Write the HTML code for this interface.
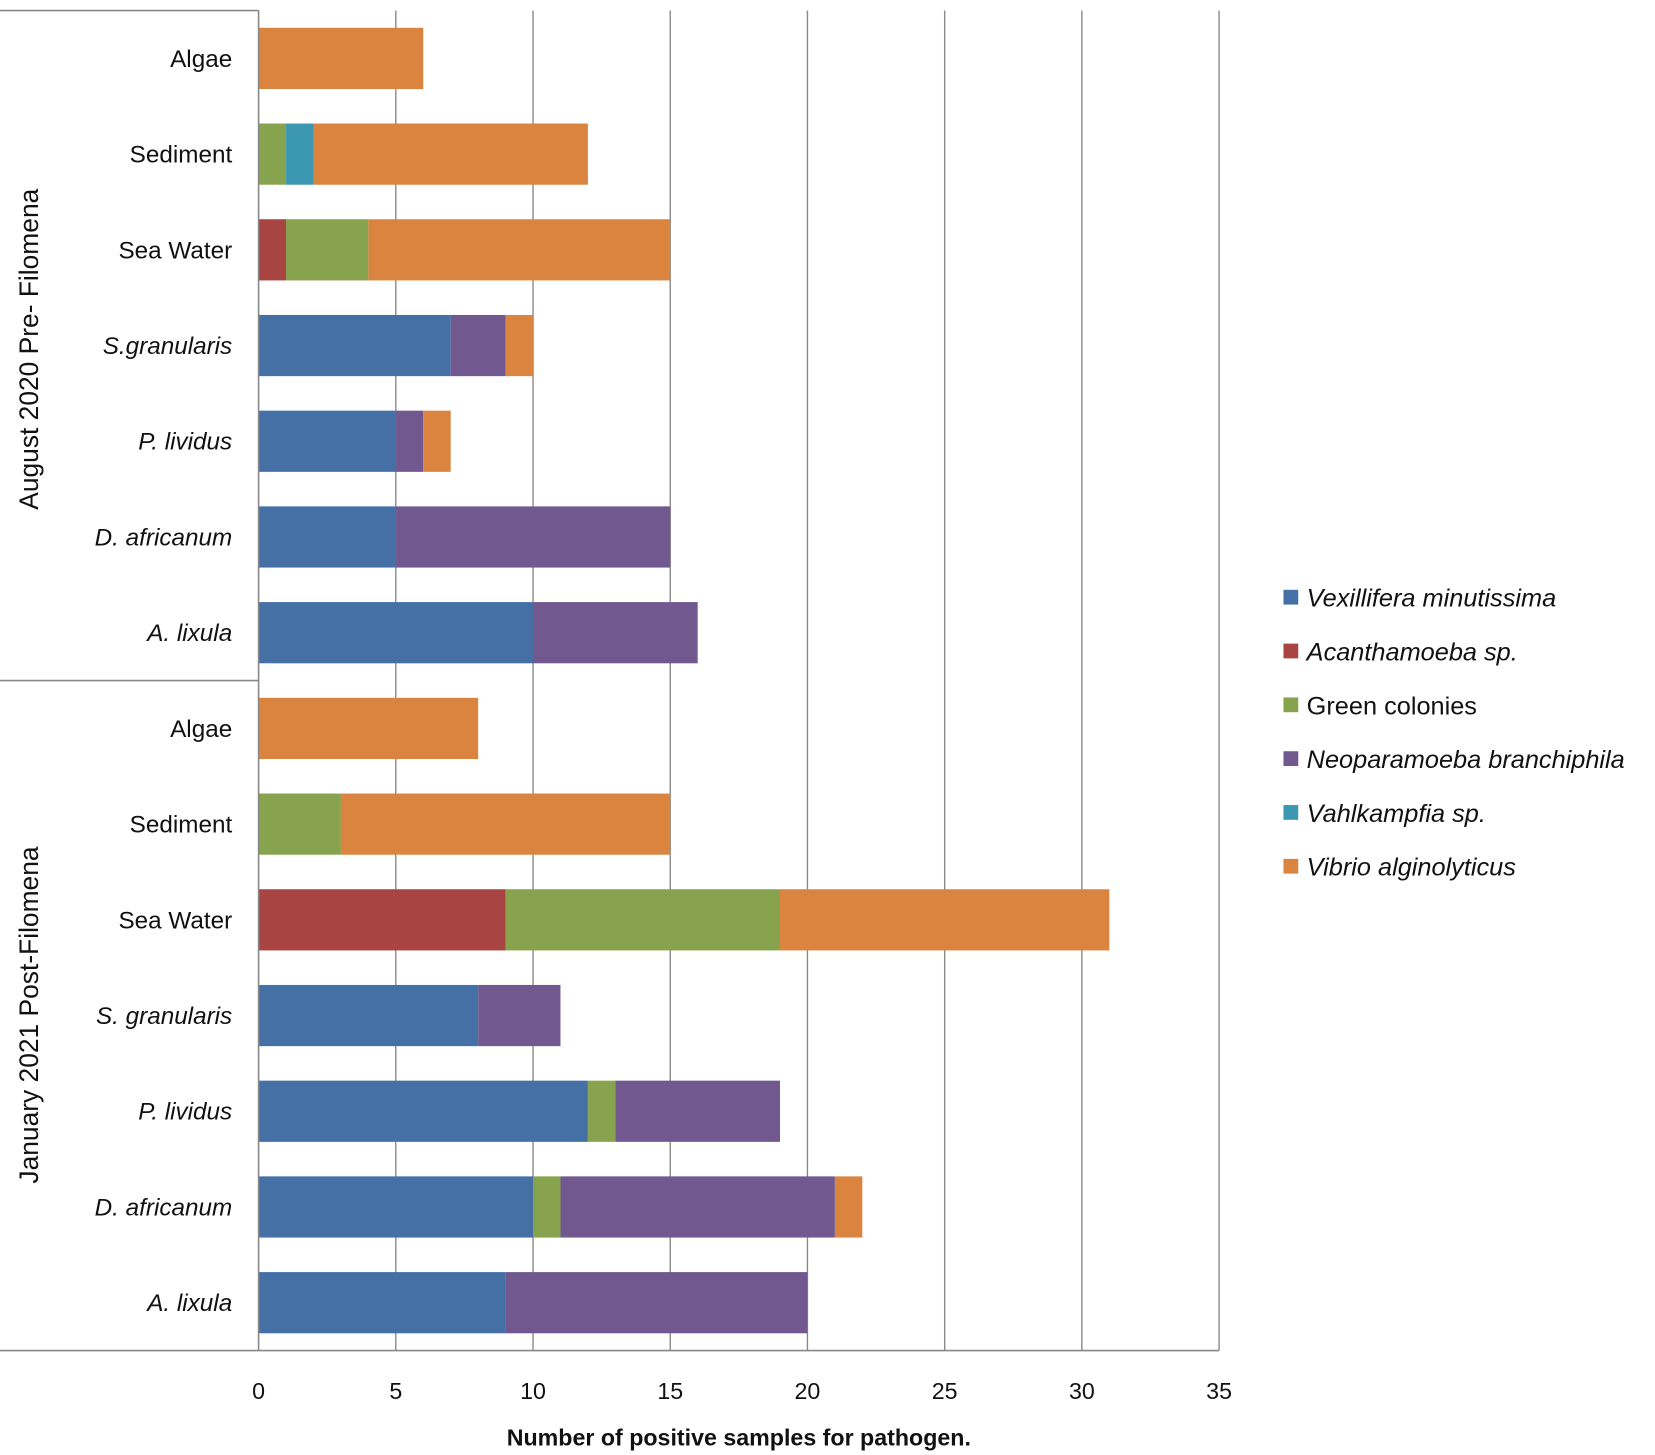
<!DOCTYPE html>
<html><head><meta charset="utf-8"><style>
html,body{margin:0;padding:0;background:#fff;}
svg{display:block;font-family:"Liberation Sans",sans-serif;}
</style></head><body>
<svg id="chart" width="1655" height="1455" viewBox="0 0 1568 1379" preserveAspectRatio="none" xmlns="http://www.w3.org/2000/svg">
<g id="grid"></g>
<g id="bars"></g>
<g id="frame">
<line x1="0" y1="10" x2="245" y2="10" stroke="#888" stroke-width="1.5"/>
<line x1="0" y1="645" x2="245" y2="645" stroke="#888" stroke-width="1.5"/>
<line x1="0" y1="1280" x2="1155" y2="1280" stroke="#888" stroke-width="1.5"/>
<line x1="245" y1="10" x2="245" y2="1280" stroke="#888" stroke-width="1.5"/>
</g>
<g id="cats"></g>
<g id="ticks"></g>
<text transform="translate(36,331) rotate(-90)" text-anchor="middle" font-size="25" fill="#111">August 2020 Pre- Filomena</text>
<text transform="translate(36,962) rotate(-90)" text-anchor="middle" font-size="25" fill="#111">January 2021 Post-Filomena</text>
<text x="700" y="1370" text-anchor="middle" font-size="22" font-weight="bold" fill="#111">Number of positive samples for pathogen.</text>
<g id="legend"></g>
</svg>
<script>
const categories=["Algae","Sediment","Sea Water","S.granularis","P. lividus","D. africanum","A. lixula","Algae","Sediment","Sea Water","S. granularis","P. lividus","D. africanum","A. lixula"];
const italicCats=[false,false,false,true,true,true,true,false,false,false,true,true,true,true];
const seriesNames=["Vexillifera minutissima","Acanthamoeba sp.","Green colonies","Neoparamoeba branchiphila","Vahlkampfia sp.","Vibrio alginolyticus"];
const seriesItalic=[true,true,false,true,true,true];
const seriesColors=["#4470a6","#a84442","#87a34e","#71598f","#3c98b0","#db8440"];
const vexillifera=[0,0,0,7,5,5,10,0,0,0,8,12,10,9];
const acanthamoeba=[0,0,1,0,0,0,0,0,0,9,0,0,0,0];
const greenColonies=[0,1,3,0,0,0,0,0,3,10,0,1,1,0];
const neoparamoeba=[0,0,0,2,1,10,6,0,0,0,3,6,10,11];
const vahlkampfia=[0,1,0,0,0,0,0,0,0,0,0,0,0,0];
const vibrio=[6,10,11,1,1,0,0,8,12,12,0,0,1,0];
const xTicks=[0,5,10,15,20,25,30,35];
const series=[vexillifera,acanthamoeba,greenColonies,neoparamoeba,vahlkampfia,vibrio];
const NS="http://www.w3.org/2000/svg";
const xLeft=245,xRight=1155,xMax=35,yTop=10,yBot=1280;
const xs=v=>xLeft+(v/xMax)*(xRight-xLeft);
const band=(yBot-yTop)/categories.length;
const yc=i=>yTop+band*(i+0.5);
const barH=58;
function mk(tag,attrs,parent){const e=document.createElementNS(NS,tag);for(const k in attrs)e.setAttribute(k,attrs[k]);parent.appendChild(e);return e;}
const grid=document.getElementById('grid'),bars=document.getElementById('bars'),cats=document.getElementById('cats'),ticks=document.getElementById('ticks'),legend=document.getElementById('legend');
xTicks.forEach(t=>{
 if(t>0){const l=mk('line',{x1:xs(t),x2:xs(t),y1:yTop,y2:yBot,stroke:'#888','stroke-width':1.3},grid);
 
 }
 const tx=mk('text',{x:xs(t),y:1326,'text-anchor':'middle','font-size':22,fill:'#111'},ticks);tx.textContent=t;
 
 
});
categories.forEach((c,i)=>{
 let acc=0;
 series.forEach((s,k)=>{
  const v=s[i]; if(!v)return;
  const r=mk('rect',{x:xs(acc),y:yc(i)-barH/2,width:xs(acc+v)-xs(acc),height:barH,fill:seriesColors[k]},bars);
  
  
  acc+=v;
 });
 const t=mk('text',{x:220,y:yc(i)+8,'text-anchor':'end','font-size':23,fill:'#111','font-style':italicCats[i]?'italic':'normal'},cats);
 t.textContent=c;
 
 
});
seriesNames.forEach((n,k)=>{
 const y=567+k*51;
 const g=mk('g',{},legend);
 
 
 mk('rect',{x:1216,y:y-8,width:14,height:14,fill:seriesColors[k]},g);
 const t=mk('text',{x:1238,y:y+8,'font-size':24,fill:'#111','font-style':seriesItalic[k]?'italic':'normal'},g);
 t.textContent=n;
});
</script>
</body></html>
